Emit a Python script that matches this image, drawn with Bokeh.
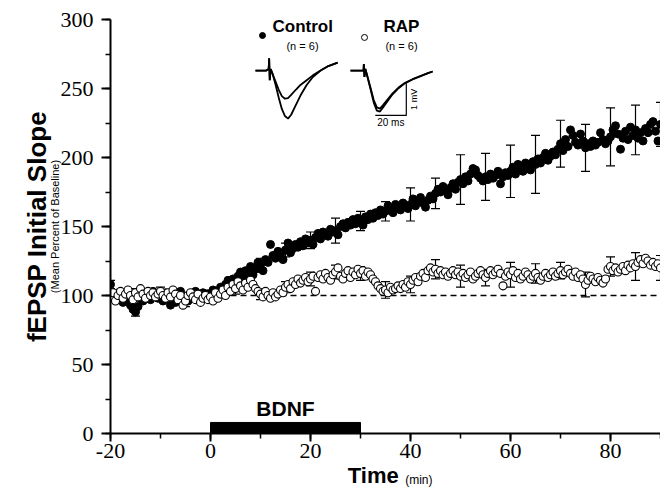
import numpy as np
from bokeh.plotting import figure
from bokeh.models import (ColumnDataSource, Whisker, TeeHead, LinearAxis, FixedTicker,
                          Label, SingleIntervalTicker)
from bokeh.embed import file_html
from bokeh.resources import INLINE

# ---------------- data ----------------
time_start, time_step = -20.0, 0.5

ctrl_m20 = [108, 100, 97, 102, 99, 95, 101, 97, 93, 90, 88, 92, 98, 96, 101, 99, 97, 103, 100, 98]
ctrl_m10 = [100, 96, 102, 99, 93, 101, 95, 99, 103, 100, 98, 96, 101, 99, 103, 97, 100, 102, 98, 101]
ctrl_0 = [101, 104, 99, 103, 106, 102, 108, 111, 107, 112, 110, 114, 117, 113, 118, 116, 121, 115, 119, 124]
ctrl_10 = [122, 118, 126, 124, 137, 129, 127, 132, 130, 126, 133, 138, 131, 134, 137, 135, 139, 136, 141, 138]
ctrl_20 = [140, 137, 142, 145, 141, 146, 144, 143, 148, 146, 147, 144, 150, 152, 149, 153, 151, 155, 152, 156]
ctrl_30 = [154, 151, 157, 155, 159, 156, 160, 158, 162, 159, 161, 165, 163, 160, 166, 164, 162, 167, 165, 163]
ctrl_40 = [166, 170, 165, 168, 171, 167, 164, 169, 172, 170, 174, 177, 175, 179, 176, 173, 178, 181, 177, 182]
ctrl_50 = [184, 181, 186, 183, 188, 192, 191, 187, 185, 183, 186, 184, 188, 185, 187, 190, 181, 186, 189, 187]
ctrl_60 = [190, 193, 188, 195, 192, 190, 196, 193, 191, 197, 195, 199, 196, 200, 203, 198, 201, 204, 202, 206]
ctrl_70 = [210, 205, 213, 208, 220, 216, 211, 209, 217, 212, 207, 210, 208, 212, 209, 211, 218, 213, 210, 212]
ctrl_80 = [215, 220, 223, 217, 206, 214, 219, 213, 222, 216, 220, 214, 218, 212, 221, 218, 224, 226, 219, 212]
ctrl_90 = [224]

rap_m20 = [99, 102, 96, 100, 103, 98, 101, 104, 100, 97, 102, 99, 105, 101, 98, 103, 100, 102, 99, 101]
rap_m10 = [103, 100, 98, 102, 99, 104, 101, 97, 100, 93, 96, 100, 102, 99, 97, 101, 95, 98, 100, 97]
rap_0 = [99, 96, 102, 98, 101, 104, 100, 106, 103, 108, 105, 110, 107, 104, 109, 106, 111, 108, 105, 103]
rap_10 = [101, 99, 103, 100, 98, 102, 99, 101, 104, 102, 106, 108, 105, 110, 108, 112, 109, 111, 113, 110]
rap_20 = [112, 114, 103, 113, 115, 112, 116, 113, 111, 115, 117, 120, 114, 112, 116, 118, 113, 117, 115, 119]
rap_30 = [116, 118, 114, 117, 115, 112, 110, 107, 105, 103, 104, 102, 106, 104, 105, 107, 105, 108, 106, 110]
rap_40 = [108, 111, 113, 110, 114, 116, 113, 118, 120, 117, 119, 116, 118, 115, 117, 114, 116, 118, 115, 117]
rap_50 = [114, 116, 113, 115, 117, 112, 114, 116, 118, 115, 113, 116, 118, 115, 117, 119, 116, 107, 114, 117]
rap_60 = [115, 118, 113, 116, 112, 114, 117, 115, 112, 114, 116, 113, 111, 114, 116, 113, 115, 117, 114, 116]
rap_70 = [118, 115, 117, 119, 116, 114, 117, 113, 115, 112, 108, 111, 114, 112, 110, 113, 111, 109, 112, 119]
rap_80 = [121, 118, 120, 117, 119, 121, 118, 122, 120, 123, 121, 124, 126, 123, 127, 125, 122, 124, 121, 123]
rap_90 = [120]

err_times = [-20, -15, -10, -5, 0, 5, 10, 15, 20, 25, 30, 35, 40, 45, 50, 55, 60, 65, 70, 75, 80, 85, 90]
ctrl_sem = [3, 3, 3, 3, 3, 4, 5, 5, 6, 9, 7, 7, 12, 11, 18, 17, 19, 21, 17, 17, 21, 18, 16]
rap_sem = [3, 3, 3, 4, 3, 4, 4, 4, 5, 5, 5, 6, 6, 7, 8, 6, 9, 7, 6, 9, 7, 10, 9]

bdnf_start, bdnf_end, bdnf_bar_height = 0, 30, 8
baseline_level = 100

# inset sweeps (time in ms from sweep start, voltage in mV from baseline)
ctrl_sweep_t = [0, 7, 8.5, 8.8, 9.2, 9.8, 11, 13, 15, 17, 19, 21, 23, 26, 29, 33, 37, 42, 47, 53]
ctrl_sweep_large = [0, 0, 0.05, 0.38, -0.3, 0.05, -0.1, -0.45, -0.85, -1.2, -1.42, -1.5, -1.38, -1.08, -0.78, -0.45, -0.2, 0.0, 0.14, 0.25]
ctrl_sweep_small = [0, 0, 0.05, 0.38, -0.3, 0.05, -0.1, -0.35, -0.6, -0.8, -0.88, -0.86, -0.76, -0.6, -0.45, -0.3, -0.15, 0.0, 0.14, 0.25]
rap_sweep_t = [0, 7, 8.4, 8.6, 9.0, 9.6, 11, 13, 15, 17, 19, 21, 24, 27, 31, 35, 40, 45, 50, 53]
rap_sweep_large = [0, 0, 0, 0.2, -0.2, 0.05, -0.2, -0.6, -1.0, -1.25, -1.28, -1.15, -0.95, -0.75, -0.55, -0.4, -0.28, -0.18, -0.08, -0.03]
rap_sweep_small = [0, 0, 0, 0.2, -0.2, 0.05, -0.2, -0.55, -0.92, -1.15, -1.19, -1.08, -0.9, -0.72, -0.53, -0.39, -0.27, -0.17, -0.08, -0.03]
scale_ms, scale_mv = 20, 1

x_tick_labels = {-20: "-20", 0: "0", 20: "20", 40: "40", 60: "60", 80: "80"}

# ---------------- assemble ----------------
control = np.array(ctrl_m20 + ctrl_m10 + ctrl_0 + ctrl_10 + ctrl_20 + ctrl_30 + ctrl_40
                   + ctrl_50 + ctrl_60 + ctrl_70 + ctrl_80 + ctrl_90, dtype=float)
rap = np.array(rap_m20 + rap_m10 + rap_0 + rap_10 + rap_20 + rap_30 + rap_40
               + rap_50 + rap_60 + rap_70 + rap_80 + rap_90, dtype=float)
times = time_start + time_step * np.arange(len(control))

err_idx = [int(round((t - time_start) / time_step)) for t in err_times]
ctrl_base = control[err_idx]
rap_base = rap[err_idx]

p = figure(width=660, height=495, x_range=(-20, 90), y_range=(0, 300),
           output_backend="svg", toolbar_location=None, title=None,
           min_border_left=110, min_border_right=0, min_border_top=19, min_border_bottom=62)
p.outline_line_color = None
p.xgrid.visible = False
p.ygrid.visible = False
p.background_fill_color = "white"
p.border_fill_color = "white"

SERIF = "Liberation Serif"
SANS = "Liberation Sans"

for ax in (p.xaxis[0], p.yaxis[0]):
    ax.axis_line_width = 2
    ax.axis_line_color = "black"
    ax.major_tick_line_width = 2
    ax.major_tick_line_color = "black"
    ax.minor_tick_line_width = 1.5
    ax.minor_tick_line_color = "black"
    ax.major_tick_in = 0
    ax.minor_tick_in = 0
    ax.minor_tick_out = 5
    ax.major_label_text_font = SERIF
    ax.major_label_text_font_size = "22px"
    ax.major_label_text_color = "black"
    ax.axis_label_text_color = "black"

p.xaxis.major_tick_out = 8
p.yaxis.major_tick_out = 9
p.xaxis.ticker = SingleIntervalTicker(interval=20, num_minor_ticks=2)
p.yaxis.ticker = SingleIntervalTicker(interval=50, num_minor_ticks=2)
p.xaxis.major_label_overrides = x_tick_labels
p.xaxis.major_label_standoff = 2
p.yaxis.major_label_standoff = 8

# x axis title: "Time" and, on the same line, a small "(min)"
NB = "\u00a0"
p.xaxis.axis_label = "Time" + NB * 4
p.xaxis.axis_label_text_font = SANS
p.xaxis.axis_label_text_font_size = "22px"
p.xaxis.axis_label_text_font_style = "bold"
p.xaxis.axis_label_standoff = 2

unit_axis = LinearAxis(ticker=FixedTicker(ticks=[]), axis_label=NB * 20 + "(min)",
                       axis_line_color=None, major_tick_line_color=None, minor_tick_line_color=None,
                       major_tick_out=0, minor_tick_out=0, major_label_standoff=0,
                       axis_label_standoff=-18, axis_label_text_font=SANS,
                       axis_label_text_font_size="12px", axis_label_text_font_style="normal",
                       axis_label_text_color="black")
p.add_layout(unit_axis, "below")

# y axis titles
p.yaxis.axis_label = "(Mean Percent of Baseline)"
p.yaxis.axis_label_text_font = SANS
p.yaxis.axis_label_text_font_size = "11px"
p.yaxis.axis_label_text_font_style = "normal"
p.yaxis.axis_label_standoff = -3

outer = LinearAxis(ticker=FixedTicker(ticks=[]), axis_label="fEPSP Initial Slope",
                   axis_line_color=None, major_tick_line_color=None, minor_tick_line_color=None,
                   major_tick_out=0, minor_tick_out=0, major_label_standoff=0,
                   axis_label_standoff=-6, axis_label_text_font=SANS,
                   axis_label_text_font_size="26px", axis_label_text_font_style="bold",
                   axis_label_text_color="black")
p.add_layout(outer, "left")

# BDNF bar
p.quad(left=[bdnf_start], right=[bdnf_end], bottom=[0], top=[bdnf_bar_height],
       fill_color="black", line_color="black")
p.add_layout(Label(x=(bdnf_start + bdnf_end) / 2, y=bdnf_bar_height + 10, text="BDNF",
                   text_font=SANS, text_font_size="21px", text_font_style="bold",
                   text_color="black", text_align="center", text_baseline="middle"))

# baseline dashed line
p.segment(x0=[bdnf_start], y0=[baseline_level], x1=[times[-1]], y1=[baseline_level],
          line_color="black", line_dash="6 4", line_width=1.5)

# data
p.scatter(times, control, size=8, marker="circle", fill_color="black", line_color="black")
p.scatter(times, rap, size=8, marker="circle", fill_color="white", line_color="black", line_width=1.1)

for base, sem in ((ctrl_base, ctrl_sem), (rap_base, rap_sem)):
    src = ColumnDataSource(dict(t=err_times, lo=base - np.array(sem), hi=base + np.array(sem)))
    w = Whisker(source=src, base="t", lower="lo", upper="hi", line_width=1.2, line_color="black",
                upper_head=TeeHead(size=9, line_width=1.2, line_color="black"),
                lower_head=TeeHead(size=9, line_width=1.2, line_color="black"))
    p.add_layout(w)

# ---------------- inset ----------------
ms_to_min = 0.31     # horizontal scale of inset sweeps
mv_to_pct = 23.2     # vertical scale of inset sweeps
ctrl_origin = (9.0, 263)
rap_origin = (28.0, 263)

def place(origin, t, v):
    return ([origin[0] + ti * ms_to_min for ti in t], [origin[1] + vi * mv_to_pct for vi in v])

for origin, t, vs in ((ctrl_origin, ctrl_sweep_t, (ctrl_sweep_large, ctrl_sweep_small)),
                      (rap_origin, rap_sweep_t, (rap_sweep_large, rap_sweep_small))):
    for v in vs:
        xs, ys = place(origin, t, v)
        p.line(xs, ys, line_color="black", line_width=1.8)

corner_t, corner_v = 36, -1.4
bx, by = place(rap_origin, [corner_t - scale_ms, corner_t, corner_t],
               [corner_v, corner_v, corner_v + scale_mv])
p.line(bx, by, line_color="black", line_width=1.2)
p.add_layout(Label(x=bx[1] + 0.6, y=(by[1] + by[2]) / 2, text="1 mV", angle=np.pi / 2,
                   text_font=SANS, text_font_size="9px", text_align="center",
                   text_baseline="top", text_color="black"))
p.add_layout(Label(x=(bx[0] + bx[1]) / 2, y=by[0] - 1.5, text="20 ms", text_font=SANS,
                   text_font_size="10px", text_align="center", text_baseline="top",
                   text_color="black"))

p.scatter([10.4], [288.4], size=6, marker="circle", fill_color="black", line_color="black")
p.scatter([30.8], [287], size=6, marker="circle", fill_color="white", line_color="black")
for x, txt in ((12.4, "Control"), (34.6, "RAP")):
    p.add_layout(Label(x=x, y=295, text=txt, text_font=SANS, text_font_size="17px",
                       text_font_style="bold", text_baseline="middle", text_align="left",
                       text_color="black"))
for x in (18.4, 38.2):
    p.add_layout(Label(x=x, y=280.5, text="(n = 6)", text_font=SANS, text_font_size="11px",
                       text_baseline="middle", text_align="center", text_color="black"))

open("out.html", "w").write(file_html(p, INLINE))
